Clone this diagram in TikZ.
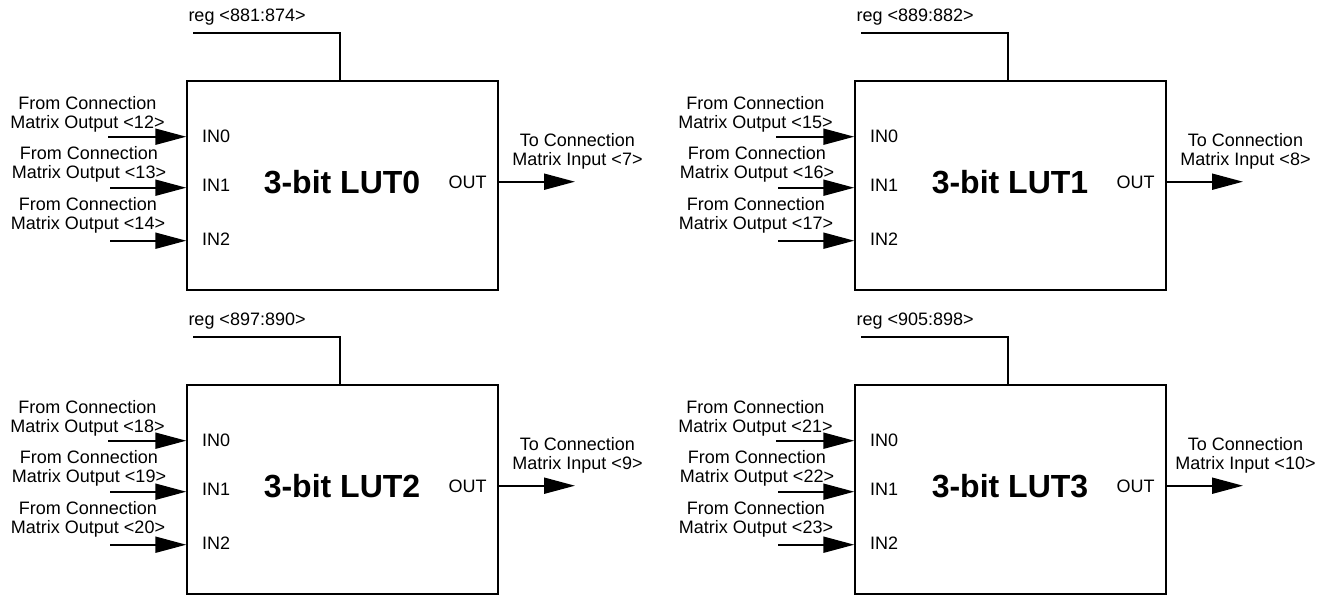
\documentclass[tikz,border=0pt]{standalone}
\usepackage{fontspec}
\setmainfont{Liberation Sans}
\usetikzlibrary{arrows.meta}
\tikzset{
 lutbox/.style={draw, line width=2pt, minimum width=311pt, minimum height=209.3pt, inner sep=0pt},
 wire/.style={line width=2pt},
 sig/.style={line width=2pt, -{Triangle[length=31pt,width=16pt]}},
 lbl/.style={font=\fontsize{18}{18.3}\selectfont, align=center, inner sep=0pt},
 pin/.style={font=\fontsize{18}{18}\selectfont, inner sep=0pt},
 ttl/.style={font=\fontsize{32}{32}\selectfont\bfseries, inner sep=0pt},
}
\newcommand{\lutblock}[8]{%
\begin{scope}[shift={(#1,#2)}]
 \node[lutbox] (box#3) at (342.8,185.35) {};
 \node[ttl, anchor=base] (title#3) at (342,193.3) {3-bit LUT#3};
 \node[pin, anchor=base west] (pina#3) at (202,142.7) {IN0};
 \node[pin, anchor=base west] (pinb#3) at (202,191.7) {IN1};
 \node[pin, anchor=base west] (pinc#3) at (202,245) {IN2};
 \node[pin, anchor=base east] (out#3) at (486.7,188.3) {OUT};
 \node[pin, anchor=base west] (reg#3) at (188.3,21.5) {reg <#4>};
 \coordinate (rs#3) at (193,32.7);
 \draw[wire] (rs#3) -| (340,0 |- box#3.north);
 \coordinate (sa#3) at (108,136.7);
 \coordinate (sb#3) at (110,187.7);
 \coordinate (sc#3) at (110,240.7);
 \draw[sig] (sa#3) -- (sa#3 -| box#3.west);
 \draw[sig] (sb#3) -- (sb#3 -| box#3.west);
 \draw[sig] (sc#3) -- (sc#3 -| box#3.west);
 \node[lbl] (la#3) at (87.5,114.25) {From Connection\\Matrix Output <#5>};
 \node[lbl] (lb#3) at (89,164.25) {From Connection\\Matrix Output <#6>};
 \node[lbl] (lc#3) at (88,215.25) {From Connection\\Matrix Output <#7>};
 \coordinate (oe#3) at (575,181.7);
 \draw[sig] (oe#3 -| box#3.east) -- (oe#3);
 \node[lbl] (ol#3) at (577.5,151.25) {To Connection\\Matrix Input <#8>};
\end{scope}}
\begin{document}
\begin{tikzpicture}[x=1pt,y=-1pt]
\useasboundingbox (0,0) rectangle (1331,595);
\lutblock{0}{0}{0}{881:874}{12}{13}{14}{7}
\lutblock{668}{0}{1}{889:882}{15}{16}{17}{8}
\lutblock{0}{304}{2}{897:890}{18}{19}{20}{9}
\lutblock{668}{304}{3}{905:898}{21}{22}{23}{10}
\end{tikzpicture}
\end{document}
